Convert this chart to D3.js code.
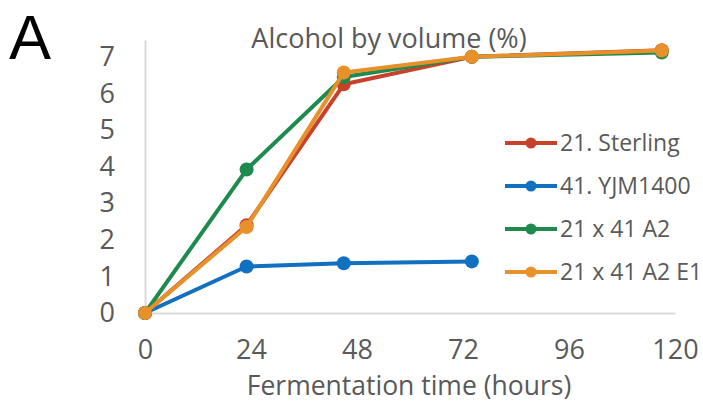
<!DOCTYPE html>
<html>
<head>
<meta charset="utf-8">
<script src="https://cdn.jsdelivr.net/npm/d3@7"></script>
<style>
  body { margin: 0; background: #fff; }
  text { font-family: "Open Sans", sans-serif; }
</style>
</head>
<body>
<div id="chart"></div>
<script>
// Fermentation time (hours) per sample
const times = [0, 23, 45, 74, 117];
const seriesNames = ["21. Sterling", "41. YJM1400", "21 x 41 A2", "21 x 41 A2 E1"];
const sterling = [0, 2.4, 6.25, 7.0, 7.18];
const yjm1400 = [0, 1.27, 1.36, 1.41];
const a2 = [0, 3.92, 6.45, 7.0, 7.12];
const a2e1 = [0, 2.35, 6.57, 7.0, 7.17];
const colors = ["#c8412b", "#1170c0", "#1f8a4d", "#e8902a"];
const xTicks = [0, 24, 48, 72, 96, 120];
const yTicks = [0, 1, 2, 3, 4, 5, 6, 7];

const series = [sterling, yjm1400, a2, a2e1].map((vals, i) => ({
  name: seriesNames[i],
  color: colors[i],
  points: vals.map((v, j) => ({ t: times[j], v: v }))
}));

const width = 703, height = 403;
const svg = d3.select("#chart").append("svg")
    .attr("width", width)
    .attr("height", height);

const x = d3.scaleLinear().domain([0, 120]).range([145, 675]);
const y = d3.scaleLinear().domain([0, 7.46]).range([313, 40]);

// panel letter
svg.append("text")
    .attr("x", 9).attr("y", 59)
    .style("font-size", "63px")
    .style("font-family", "Liberation Sans, Arial, sans-serif")
    .attr("fill", "#000")
    .text("A");

// axes
const xAxis = svg.append("g")
    .attr("transform", `translate(0,${y(0)})`)
    .call(d3.axisBottom(x).tickValues(xTicks).tickSize(0).tickPadding(27));
xAxis.select(".domain").attr("stroke", "#d9d9d9").attr("stroke-width", 2);
xAxis.selectAll("text").style("font-size", "27px").attr("fill", "#595959");

const yAxis = svg.append("g")
    .attr("transform", `translate(${x(0)},0)`)
    .call(d3.axisLeft(y).tickValues(yTicks).tickSize(0).tickPadding(30));
yAxis.select(".domain").attr("stroke", "#d9d9d9").attr("stroke-width", 2);
yAxis.selectAll("text").style("font-size", "27px").attr("fill", "#595959");

// titles
svg.append("text")
    .attr("x", 389).attr("y", 48)
    .attr("text-anchor", "middle")
    .style("font-size", "27px")
    .attr("fill", "#595959")
    .text("Alcohol by volume (%)");

svg.append("text")
    .attr("x", 409).attr("y", 395)
    .attr("text-anchor", "middle")
    .style("font-size", "26.5px")
    .attr("fill", "#595959")
    .text("Fermentation time (hours)");

// lines
const line = d3.line().x(d => x(d.t)).y(d => y(d.v));

const groups = svg.selectAll(".series")
    .data(series)
    .join("g")
    .attr("class", "series");

groups.append("path")
    .attr("d", d => line(d.points))
    .attr("fill", "none")
    .attr("stroke", d => d.color)
    .attr("stroke-width", 4)
    .attr("stroke-linejoin", "round");

groups.selectAll("circle")
    .data(d => d.points.map(p => ({ ...p, color: d.color })))
    .join("circle")
    .attr("cx", d => x(d.t))
    .attr("cy", d => y(d.v))
    .attr("r", 7)
    .attr("fill", d => d.color);

// legend
const legend = svg.append("g").attr("transform", "translate(505,143)");
const items = legend.selectAll("g")
    .data(series)
    .join("g")
    .attr("transform", (d, i) => `translate(0,${i * 43})`);

items.append("line")
    .attr("x1", 0).attr("x2", 52)
    .attr("stroke", d => d.color)
    .attr("stroke-width", 4);

items.append("circle")
    .attr("cx", 26).attr("r", 5.5)
    .attr("fill", d => d.color);

items.append("text")
    .attr("x", 55).attr("dy", "0.35em")
    .style("font-size", "23px")
    .attr("fill", "#595959")
    .text(d => d.name);
</script>
</body>
</html>
